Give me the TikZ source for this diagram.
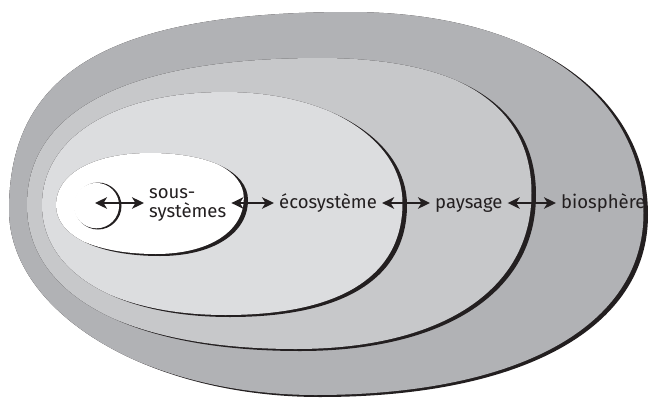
\documentclass[tikz,border=0pt]{standalone}
\usepackage{fontspec}
\setmainfont{Fira Sans}
\usetikzlibrary{arrows.meta}
\definecolor{bioC}{RGB}{177,178,181}
\definecolor{payC}{RGB}{199,200,202}
\definecolor{ecoC}{RGB}{220,221,223}
\definecolor{ink}{RGB}{35,31,32}
% L -> T -> R -> B -> L, control points on the tangents
\def\outerpath{(9,210) .. controls (9,71.4) and (111.3,12) .. (350,12) .. controls (528.8,12) and (648,93.2) .. (648,215) .. controls (648,327.8) and (523.4,397) .. (320,397) .. controls (149,397) and (9,312.9) .. (9,210) -- cycle}
\def\paypath{(27,205) .. controls (27,109.5) and (129.6,58) .. (320,58) .. controls (460.4,58) and (536,105.9) .. (536,195) .. controls (536,291.7) and (446.3,351) .. (300,351) .. controls (130.7,351) and (27,295.5) .. (27,205) -- cycle}
\def\ecopath{(42,205) .. controls (42,137.2) and (115.2,92) .. (225,92) .. controls (328.7,92) and (407,140.6) .. (407,205) .. controls (407,277.8) and (345,317) .. (230,317) .. controls (117.2,317) and (42,272.2) .. (42,205) -- cycle}
\def\whitepath{(56,205) .. controls (56,173.8) and (93.6,153) .. (150,153) .. controls (208.8,153) and (248,171.8) .. (248,200) .. controls (248,233.6) and (212.8,256) .. (160,256) .. controls (97.6,256) and (56,235.6) .. (56,205) -- cycle}
\tikzset{
  lbl/.style={text=ink, inner xsep=5pt, inner ysep=2pt, font=\fontsize{18.5}{18.5}\selectfont},
  biarrow/.style={ink, line width=2.7pt,
    {Stealth[length=12pt,width=11.5pt,inset=3.5pt]}-{Stealth[length=12pt,width=11.5pt,inset=3.5pt]}}
}
\begin{document}
\begin{tikzpicture}[x=1pt,y=-1pt]
\useasboundingbox (0,0) rectangle (649,397);
% biosphere
\fill[ink] \outerpath;
\begin{scope}
  \clip \outerpath;
  \fill[bioC, shift={(-4.5,-2)}] \outerpath;
\end{scope}
% paysage
\fill[ink] \paypath;
\begin{scope}
  \clip \paypath;
  \fill[payC, shift={(-4.5,-2)}] \paypath;
\end{scope}
% ecosysteme
\fill[ink] \ecopath;
\begin{scope}
  \clip \ecopath;
  \fill[ecoC, shift={(-4.5,-2)}] \ecopath;
\end{scope}
% sous-systemes
\fill[ink] \whitepath;
\begin{scope}
  \clip \whitepath;
  \fill[white, shift={(-4.2,-2)}] \whitepath;
\end{scope}
% small crescent
\fill[ink] (98,206) circle (23.5);
\fill[white] (96.4,205.6) circle (22.7);
% labels
\node[lbl, anchor=base west, align=left] (sous) at (144,217) {sous-\\systèmes};
\node[lbl, anchor=base west] (eco) at (274,208) {écosystème};
\node[lbl, anchor=base west] (pay) at (430,208) {paysage};
\node[lbl, anchor=base west] (bio) at (556,208) {biosphère};
\coordinate (row) at (0,203);
\coordinate (c0) at (95,203);
% arrows
\draw[biarrow] (c0) -- (sous.west |- row);
\draw[biarrow] (sous.east |- row) -- (eco.west |- row);
\draw[biarrow] (eco.east |- row) -- (pay.west |- row);
\draw[biarrow] (pay.east |- row) -- (bio.west |- row);
\end{tikzpicture}
\end{document}
